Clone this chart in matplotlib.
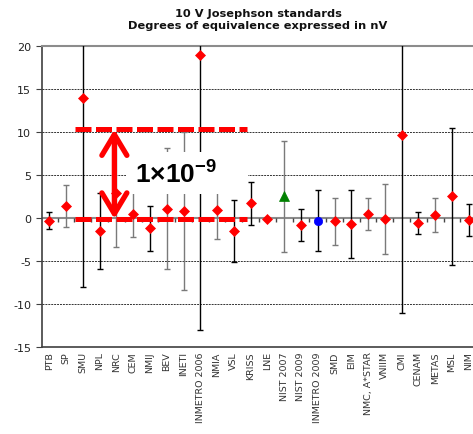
import matplotlib
matplotlib.use('Agg')
import matplotlib.pyplot as plt
import matplotlib.markers as mmarkers
from matplotlib.patches import Rectangle
import numpy as np

labels = ['PTB', 'SP', 'SMU', 'NPL', 'NRC', 'CEM', 'NMIJ', 'BEV', 'INETI', 'INMETRO 2006',
          'NMIA', 'VSL', 'KRISS', 'LNE', 'NIST 2007', 'NIST 2009', 'INMETRO 2009', 'SMD',
          'EIM', 'NMC, A*STAR', 'VNIIM', 'CMI', 'CENAM', 'METAS', 'MSL', 'NIM']
values = [-0.3, 1.4, 14.0, -1.55, 2.9, 0.45, -1.2, 1.1, 0.8, 19.0,
          0.95, -1.5, 1.7, -0.1, 2.5, -0.8, -0.3, -0.4,
          -0.7, 0.45, -0.1, 9.6, -0.6, 0.35, 2.5, -0.2]
uncert = [1.0, 2.4, 22.0, 4.4, 6.3, 2.7, 2.6, 7.0, 9.2, 32.0,
          3.4, 3.6, 2.5, 0.1, 6.5, 1.9, 3.5, 2.7,
          4.0, 1.9, 4.05, 20.6, 1.3, 2.0, 8.0, 1.85]
# 1 = black error bar, 0 = grey error bar
dark_bar = [1, 0, 1, 1, 0, 0, 1, 0, 0, 1,
            0, 1, 1, 1, 0, 1, 1, 0,
            1, 0, 0, 1, 1, 0, 1, 1]
special = {'NIST 2007': ('^', '#008000', 6.5), 'INMETRO 2009': ('o', '#0000ff', 6.0)}

plt.rcParams['font.family'] = 'DejaVu Sans'
plt.rcParams['axes.unicode_minus'] = False
plt.rcParams['mathtext.fontset'] = 'custom'
plt.rcParams['mathtext.bf'] = 'Liberation Sans:bold'
plt.rcParams['mathtext.rm'] = 'Liberation Sans'

fig = plt.figure(figsize=(4.73, 4.35), dpi=100)
ax = fig.add_axes([0.0882, 0.2, 0.9206, 0.692])

x = np.arange(len(labels))

# zero line with small ticks between categories
ax.axhline(0, color='#8c8c8c', lw=1.5, zorder=2)
ax.plot(np.arange(len(labels) + 1) - 0.5, np.zeros(len(labels) + 1), linestyle='none',
        marker=mmarkers.TICKDOWN, ms=3, mew=1, color='#444444', zorder=2)

for i in range(len(labels)):
    col = 'black' if dark_bar[i] else '#7a7a7a'
    ax.errorbar(x[i], values[i], yerr=uncert[i], fmt='none', ecolor=col,
                elinewidth=1, capsize=2.5, capthick=1, zorder=3)
    mk, mc, ms = special.get(labels[i], ('D', '#ff0000', 4.6))
    ax.plot(x[i], values[i], marker=mk, color=mc, ms=ms, mec=mc, mew=0.5,
            linestyle='none', zorder=6)

# 1e-9 annotation
ax.add_patch(Rectangle((4.57, 2.79), 7.28, 4.88, facecolor='white', edgecolor='none', zorder=4))
for lvl in [10.3, -0.1]:
    ax.plot([1.55, 11.76], [lvl, lvl], color='#ff0000', lw=3.6,
            linestyle=(0, (3.2, 0.9)), dash_capstyle='butt', zorder=5)
ax.annotate('', xy=(3.88, 10.3), xytext=(3.88, -0.1),
            arrowprops=dict(arrowstyle='<->, head_length=0.75, head_width=0.45',
                            color='#ff0000', lw=3.8, shrinkA=0, shrinkB=0,
                            mutation_scale=20), zorder=7)
ax.text(5.13, 4.07, r'$\mathbf{1{\times}10^{-9}}$', fontsize=19, ha='left', va='baseline',
        color='black', zorder=8)

ax.set_xlim(-0.45, 25.5)
ax.set_ylim(-15, 20)
ax.set_yticks(range(-15, 21, 5))
ax.yaxis.grid(True, linestyle=(0, (2, 1)), color='#333333', lw=0.7)
ax.set_axisbelow(True)
ax.set_xticks(x)
ax.set_xticklabels(labels, rotation=90)
ax.tick_params(axis='x', length=0, pad=3, labelsize=6.8, labelcolor='#333333')
ax.tick_params(axis='y', direction='out', length=4, color='#404040', labelsize=8,
               labelcolor='#222222')
ax.spines['right'].set_visible(False)
ax.spines['top'].set_color('#8c8c8c')
ax.spines['top'].set_linewidth(1.5)
ax.spines['left'].set_color('#404040')
ax.spines['left'].set_linewidth(1.2)
ax.spines['bottom'].set_color('#404040')
ax.spines['bottom'].set_linewidth(1.2)

fig.text(258 / 473, 1 - 20 / 435, '10 V Josephson standards\nDegrees of equivalence expressed in nV',
         ha='center', va='center', fontsize=8.2, fontweight='bold', color='#111111',
         linespacing=1.3)

fig.savefig('out.png', dpi=100)
